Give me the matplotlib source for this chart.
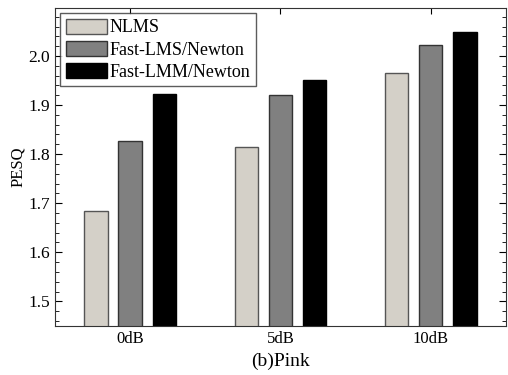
import numpy as np
import matplotlib.pyplot as plt
from matplotlib.ticker import MultipleLocator

categories = ['0dB', '5dB', '10dB']
nlms = [1.685, 1.815, 1.965]
fast_lms = [1.827, 1.920, 2.022]
fast_lmm = [1.923, 1.951, 2.048]
series_names = ['NLMS', 'Fast-LMS/Newton', 'Fast-LMM/Newton']

plt.rcParams['font.family'] = ['Liberation Serif', 'DejaVu Serif']

fig = plt.figure(figsize=(5.08, 3.75), dpi=100)
ax = fig.add_axes([0.108, 0.131, 0.888, 0.848])

x = np.arange(len(categories))
width = 0.155
offset = 0.227
colors = ['#d4d0c8', '#808080', '#000000']
edges = ['#555555', '#333333', '#000000']

for i, vals in enumerate([nlms, fast_lms, fast_lmm]):
    ax.bar(x + (i - 1) * offset, vals, width, color=colors[i], edgecolor=edges[i],
           linewidth=1.0, label=series_names[i])

ax.set_xlim(-0.5, 2.5)
ax.set_ylim(1.45, 2.098)
ax.set_xticks(x)
ax.set_xticklabels(categories, fontsize=12)
ax.yaxis.set_major_locator(MultipleLocator(0.1))
ax.yaxis.set_minor_locator(MultipleLocator(0.02))
ax.tick_params(axis='y', which='both', direction='in', right=True, labelsize=12.5)
ax.tick_params(axis='y', which='major', length=5)
ax.tick_params(axis='y', which='minor', length=3)
ax.tick_params(axis='x', which='both', direction='in', top=True, bottom=False, length=4)
ax.set_ylabel('PESQ', fontsize=12, labelpad=2)
ax.set_xlabel('(b)Pink', fontsize=14)

for s in ax.spines.values():
    s.set_color('#333333')

leg = ax.legend(loc='upper left', fontsize=13, frameon=True, fancybox=False,
                edgecolor='#333333', borderpad=0.3, handlelength=2.3, handleheight=0.9,
                handletextpad=0.15, labelspacing=0.25, borderaxespad=0.3)
leg.get_frame().set_linewidth(1.0)

fig.savefig('out.png', dpi=100)
